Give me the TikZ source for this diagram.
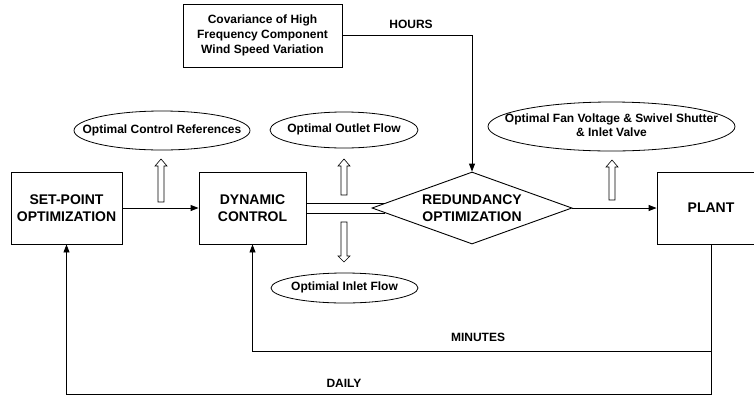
\documentclass[tikz,border=0pt]{standalone}
\usepackage{fontspec}
\setmainfont{Liberation Sans}
\usetikzlibrary{shapes.geometric,arrows.meta,calc}
\newcommand\hollowarr[4]{%
  \draw[hollow] ({#1-3},#2) -- ({#1-3},#3) -- ({#1-6},#3) -- (#1,#4) -- ({#1+6},#3) -- ({#1+3},#3) -- ({#1+3},#2) -- cycle;}
\newcommand\zw[1]{\makebox[0pt]{\begin{tabular}{@{}c@{}}#1\end{tabular}}}
\begin{document}
\begin{tikzpicture}[x=1pt,y=-1pt,
  box/.style={draw, line width=0.9pt, inner sep=0pt, align=center,
    font=\fontsize{14}{17}\selectfont\bfseries},
  ell/.style={draw, ellipse, line width=0.8pt, inner sep=0pt,
    font=\fontsize{12}{14}\selectfont\bfseries},
  lbl/.style={inner sep=0pt, font=\fontsize{12}{14}\selectfont\bfseries},
  conn/.style={line width=0.9pt, -{Triangle[length=8pt,width=6pt]}},
  plain/.style={line width=0.9pt},
  hollow/.style={line width=0.6pt, fill=white}]
\useasboundingbox (0,0) rectangle (754,397);
\clip (0,0) rectangle (754,397);

% main blocks
\node[box, minimum width=111pt, minimum height=72pt] (sp) at (66.5,208) {SET-POINT\\OPTIMIZATION};
\node[box, minimum width=107pt, minimum height=72pt] (dc) at (252.5,208) {DYNAMIC\\CONTROL};
\node[box, diamond, aspect=2.78, minimum width=200pt, minimum height=72pt] (red) at (472,208) {REDUNDANCY\\OPTIMIZATION};
\node[box, minimum width=108pt, minimum height=72pt] (plant) at (711,208) {PLANT};
\node[box, minimum width=159pt, minimum height=63pt,
  font=\fontsize{12}{15}\selectfont\bfseries] (cov) at (262.5,35.5)
  {Covariance of High\\Frequency Component\\Wind Speed Variation};

% ellipses
\node[ell, minimum width=176pt, minimum height=39pt] (e1) at (162,130.5) {\zw{Optimal Control References}};
\node[ell, minimum width=148pt, minimum height=36pt] (e2) at (344,130) {\zw{Optimal Outlet Flow}};
\node[ell, minimum width=247pt, minimum height=49pt] (e3) at (611.5,126.5) {\zw{Optimal Fan Voltage \& Swivel Shutter\\\& Inlet Valve}};
\node[ell, minimum width=147pt, minimum height=30pt] (e4) at (344.5,288) {\zw{Optimial Inlet Flow}};

% labels
\node[lbl] (hours) at (411,24) {HOURS};
\node[lbl] (minutes) at (478,337) {MINUTES};
\node[lbl] (daily) at (344,383) {DAILY};

% connectors
\draw[conn] (sp.east) -- (dc.west);
\draw[conn] (red.east) -- (plant.west);
\draw[conn] (cov.east) -| (red.north);

\coordinate (d1) at ($(red.west)+(13.9,-5)$);
\coordinate (d2) at ($(red.west)+(13.9,5)$);
\draw[plain] (dc.east |- d1) -- (d1);
\draw[plain] (dc.east |- d2) -- (d2);

\coordinate (pb) at (711,394);
\coordinate (pm) at (711,351);
\draw[conn] (plant.south) -- (pb) -| (sp.south);
\draw[conn] (pm) -| (dc.south);

% hollow arrows
\hollowarr{161}{202}{166}{159}
\hollowarr{344}{195}{166}{159}
\hollowarr{612}{200}{167}{160}
\hollowarr{344}{222}{256}{262}
\end{tikzpicture}
\end{document}
